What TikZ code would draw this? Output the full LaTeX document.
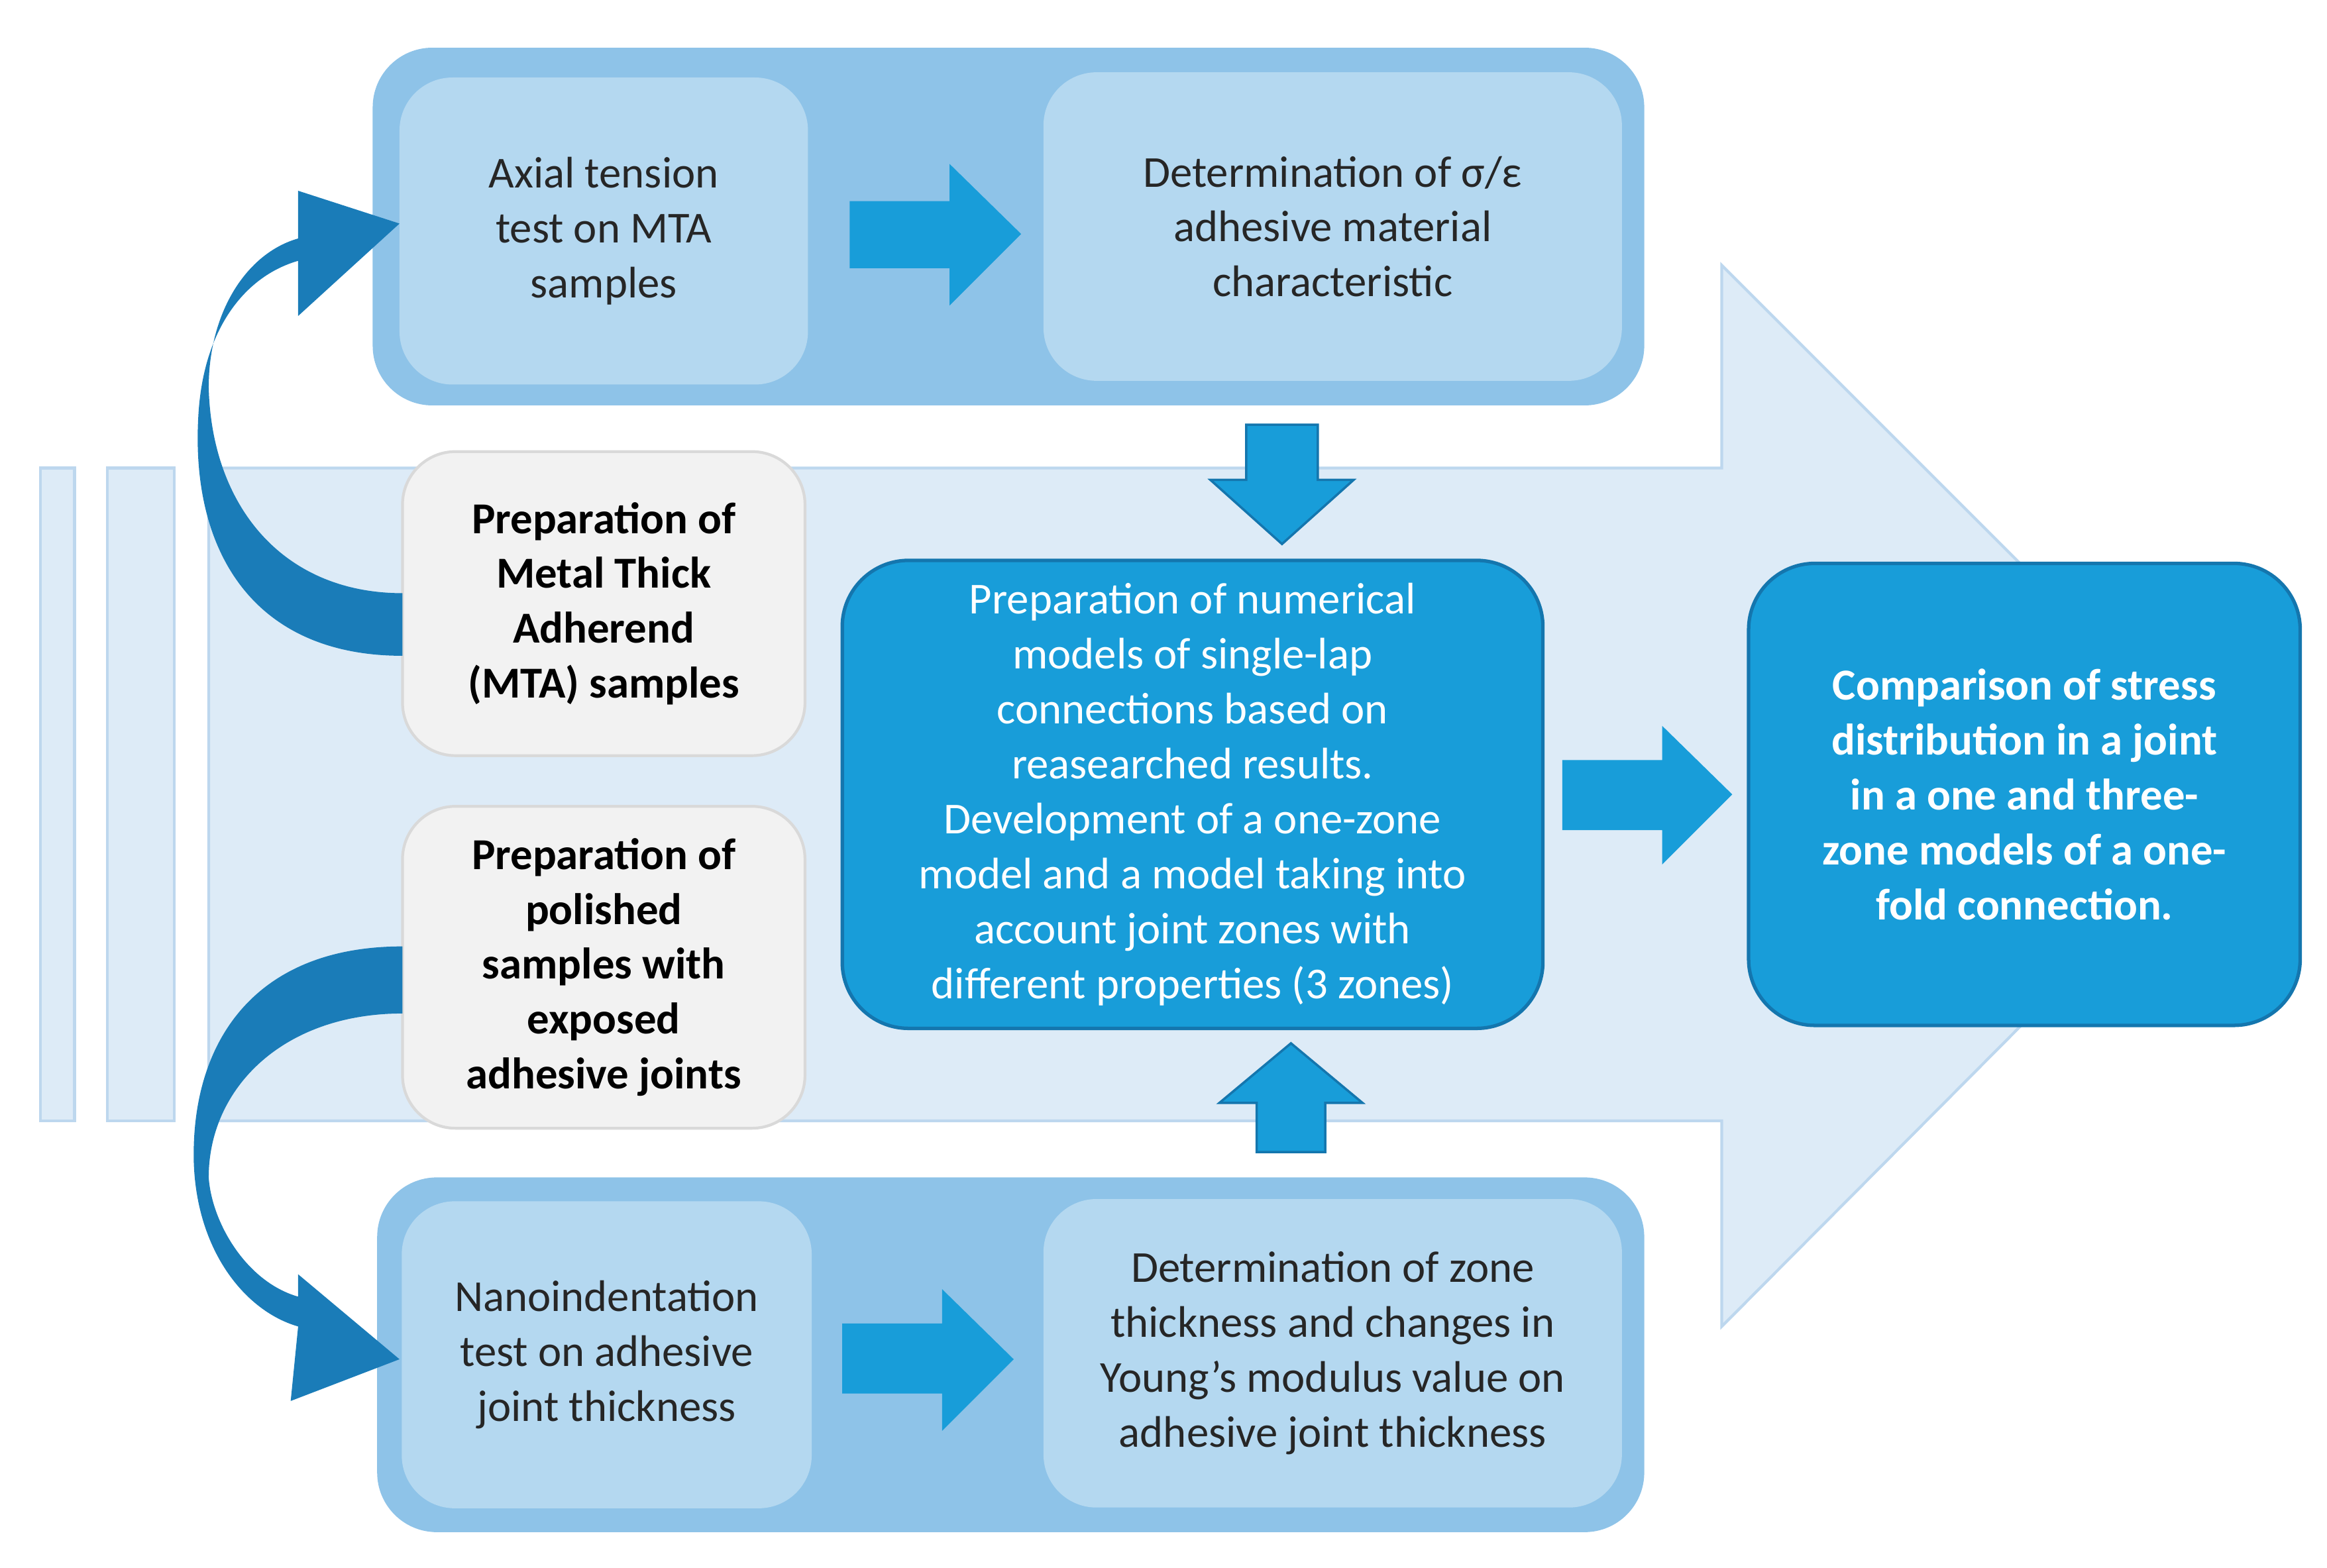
\documentclass[tikz,border=0pt]{standalone}
\usepackage{fontspec}
\setmainfont{Carlito}
\usetikzlibrary{shapes.arrows}
\definecolor{bgfill}{HTML}{DDEBF7}
\definecolor{bgline}{HTML}{BDD7EE}
\definecolor{grp}{HTML}{8EC3E8}
\definecolor{inner}{HTML}{B4D8F0}
\definecolor{mid}{HTML}{189DD9}
\definecolor{midline}{HTML}{1476AE}
\definecolor{dark}{HTML}{1A7CB8}
\definecolor{gbox}{HTML}{F2F2F2}
\definecolor{gline}{HTML}{D9D9D9}
\begin{document}
\begin{tikzpicture}[x=0.0225cm,y=-0.0225cm,
  txt/.style={font=\fontsize{19}{23.6}\selectfont,align=center,text=black!85},
  grpbox/.style={fill=grp,rounded corners=0.9cm,draw=none},
  inbox/.style={fill=inner,rounded corners=0.8cm,draw=none},
  gray/.style={fill=gbox,draw=gline,line width=1.2pt,rounded corners=0.8cm},
  blue/.style={fill=mid,draw=midline,line width=1.5pt,rounded corners=1cm},
  barr/.style={fill=mid,draw=none}]
\useasboundingbox (0,0) rectangle (1561,1052);
% background arrow
\draw[fill=bgfill,draw=bgline,line width=1.2pt] (140,314) -- (1155,314) -- (1155,178) -- (1510,533) -- (1155,890) -- (1155,752) -- (140,752) -- cycle;
\draw[fill=bgfill,draw=bgline,line width=1.2pt] (27,314) rectangle (50,752);
\draw[fill=bgfill,draw=bgline,line width=1.2pt] (72,314) rectangle (117,752);
% groups
\fill[grpbox] (250,32) rectangle (1103,272);
\fill[grpbox] (253,790) rectangle (1103,1028);
\node[inbox,minimum width=274*0.0225cm,minimum height=206*0.0225cm,txt] (a) at (405,155) {Axial tension\\test on MTA\\samples};
\node[inbox,minimum width=388*0.0225cm,minimum height=207*0.0225cm,txt] (b) at (894,152) {Determination of σ/ε\\adhesive material\\characteristic};
\node[inbox,minimum width=275*0.0225cm,minimum height=206*0.0225cm,txt] (c) at (407,909) {Nanoindentation\\test on adhesive\\joint thickness};
\node[inbox,minimum width=388*0.0225cm,minimum height=207*0.0225cm,txt] (d) at (894,908) {Determination of zone\\thickness and changes in\\Young’s modulus value on\\adhesive joint thickness};
\node[gray,minimum width=270*0.0225cm,minimum height=204*0.0225cm,txt,font=\fontsize{19}{23.6}\selectfont\bfseries,text=black] (e) at (405,405) {Preparation of\\Metal Thick\\Adherend\\(MTA) samples};
\node[gray,minimum width=270*0.0225cm,minimum height=216*0.0225cm,txt,font=\fontsize{19}{23.6}\selectfont\bfseries,text=black] (f) at (405,649) {Preparation of\\polished\\samples with\\exposed\\adhesive joints};
\node[blue,minimum width=470*0.0225cm,minimum height=314*0.0225cm,txt,text=white] (g) at (800,533) {Preparation of numerical\\models of single-lap\\connections based on\\reasearched results.\\Development of a one-zone\\model and a model taking into\\account joint zones with\\different properties (3 zones)};
\node[blue,minimum width=370*0.0225cm,minimum height=310*0.0225cm,txt,text=white,font=\fontsize{19}{23.6}\selectfont\bfseries] (h) at (1358,533) {Comparison of stress\\distribution in a joint\\in a one and three-\\zone models of a one-\\fold connection.};
% straight block arrows
\fill[barr] (570,135) -- (637,135) -- (637,110) -- (685,157) -- (637,205) -- (637,180) -- (570,180) -- cycle;
\fill[barr] (565,888) -- (632,888) -- (632,865) -- (680,912) -- (632,960) -- (632,935) -- (565,935) -- cycle;
\fill[barr] (1048,510) -- (1115,510) -- (1115,487) -- (1162,533) -- (1115,580) -- (1115,557) -- (1048,557) -- cycle;
\draw[fill=mid,draw=midline,line width=1pt] (836,285) -- (884,285) -- (884,322) -- (908,322) -- (860,365) -- (812,322) -- (836,322) -- cycle;
\draw[fill=mid,draw=midline,line width=1pt] (843,773) -- (889,773) -- (889,740) -- (914,740) -- (866,700) -- (818,740) -- (843,740) -- cycle;
% curved arrows
\fill[dark] (270,440) .. controls (170,440) and (128,370) .. (133,280)
  .. controls (136,220) and (165,185) .. (200,175) -- (200,212) -- (268,150) -- (200,128) -- (200,160)
  .. controls (165,170) and (140,210) .. (140,260) .. controls (142,340) and (190,398) .. (270,398) -- cycle;
\fill[dark] (270,635) .. controls (170,635) and (128,700) .. (130,780)
  .. controls (132,840) and (165,880) .. (200,890) -- (195,940) -- (268,912) -- (200,855) -- (200,870)
  .. controls (165,860) and (142,820) .. (140,790) .. controls (140,730) and (190,680) .. (270,680) -- cycle;
\end{tikzpicture}
\end{document}
